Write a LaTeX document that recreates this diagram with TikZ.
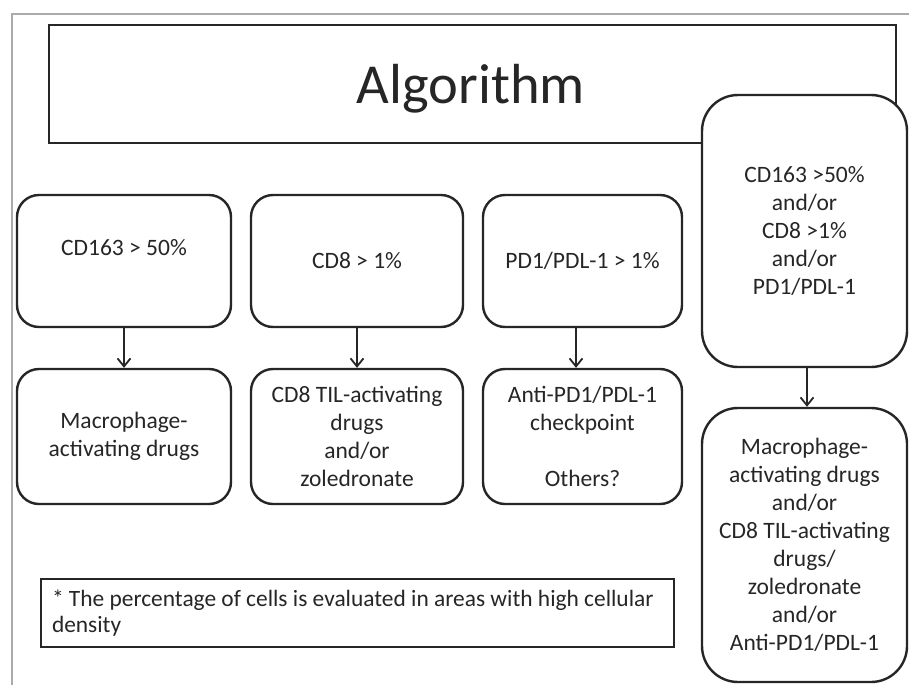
\documentclass[tikz,border=0pt]{standalone}
\usepackage{fontspec}
\setmainfont{Carlito}
\usetikzlibrary{arrows.meta}
\definecolor{ink}{HTML}{262626}
\definecolor{frame}{HTML}{ABABAB}
\tikzset{
  rbox/.style={draw=ink, line width=2.4pt, fill=white, rounded corners=22pt,
    inner sep=0pt, align=center, text=ink,
    font=\fontsize{23.5}{28}\selectfont},
  tallbox/.style={rbox, rounded corners=36pt},
  plainbox/.style={draw=ink, line width=2.4pt, fill=white, inner sep=0pt},
  arr/.style={draw=ink, line width=1.8pt, -{Straight Barb[length=8pt,width=13pt,line width=1.8pt]}}
}
\begin{document}
\begin{tikzpicture}[x=1pt,y=-1pt]
\useasboundingbox[fill=white] (0,0) rectangle (909,685);
% outer gray frame
\coordinate (fbl) at (12,685);
\coordinate (ftl) at (12,14);
\coordinate (ftr) at (909,14);
\draw[frame, line width=1.4pt] (fbl) -- (ftl) -- (ftr);
% title
\node[plainbox, minimum width=847pt, minimum height=118pt] (title) at (472.5,84) {};
\node[anchor=base, text=ink, font=\fontsize{56.5}{60}\selectfont, inner sep=0pt] (titletext) at (471,103) {Algorithm};
% row 1
\node[rbox, minimum width=214pt, minimum height=132pt] (b1) at (124,261) {CD163 > 50\%\\\mbox{}};
\node[rbox, minimum width=212pt, minimum height=132pt] (b2) at (357,261) {CD8 > 1\%};
\node[rbox, minimum width=199pt, minimum height=132pt] (b3) at (582.5,261) {PD1/PDL-1 > 1\%};
% row 2
\node[rbox, minimum width=214pt, minimum height=135pt] (c1) at (124,436.5) {Macrophage-\\activating drugs};
\node[rbox, minimum width=212pt, minimum height=135pt] (c2) at (357,436.5) {CD8 TIL-activating\\drugs\\and/or\\zoledronate};
\node[rbox, minimum width=199pt, minimum height=135pt] (c3) at (582.5,436.5) {Anti-PD1/PDL-1\\checkpoint\\\mbox{}\\Others?};
% right column
\node[tallbox, minimum width=205pt, minimum height=272pt] (t1) at (804.5,231) {CD163 >50\%\\and/or\\CD8 >1\%\\and/or\\PD1/PDL-1};
\node[tallbox, minimum width=205pt, minimum height=274pt] (t2) at (804.5,545) {Macrophage-\\activating drugs\\and/or\\CD8 TIL-activating\\drugs/\\zoledronate\\and/or\\Anti-PD1/PDL-1};
% arrows
\draw[arr] (b1.south) -- (c1.north);
\draw[arr] (b2.south) -- (c2.north);
\draw[arr] ([xshift=-6.5pt]b3.south) -- ([xshift=-6.5pt]c3.north);
\draw[arr] ([xshift=2.5pt]t1.south) -- ([xshift=2.5pt]t2.north);
% footnote
\node[plainbox, minimum width=633pt, minimum height=68pt, inner xsep=11pt, text width=611pt, align=flush left, text=ink, font=\fontsize{23.4}{26.5}\selectfont] (note) at (357.5,613) {\hyphenpenalty=10000 \hbox{* The percentage of cells is evaluated in areas with high cellular}\\density};
\end{tikzpicture}
\end{document}
